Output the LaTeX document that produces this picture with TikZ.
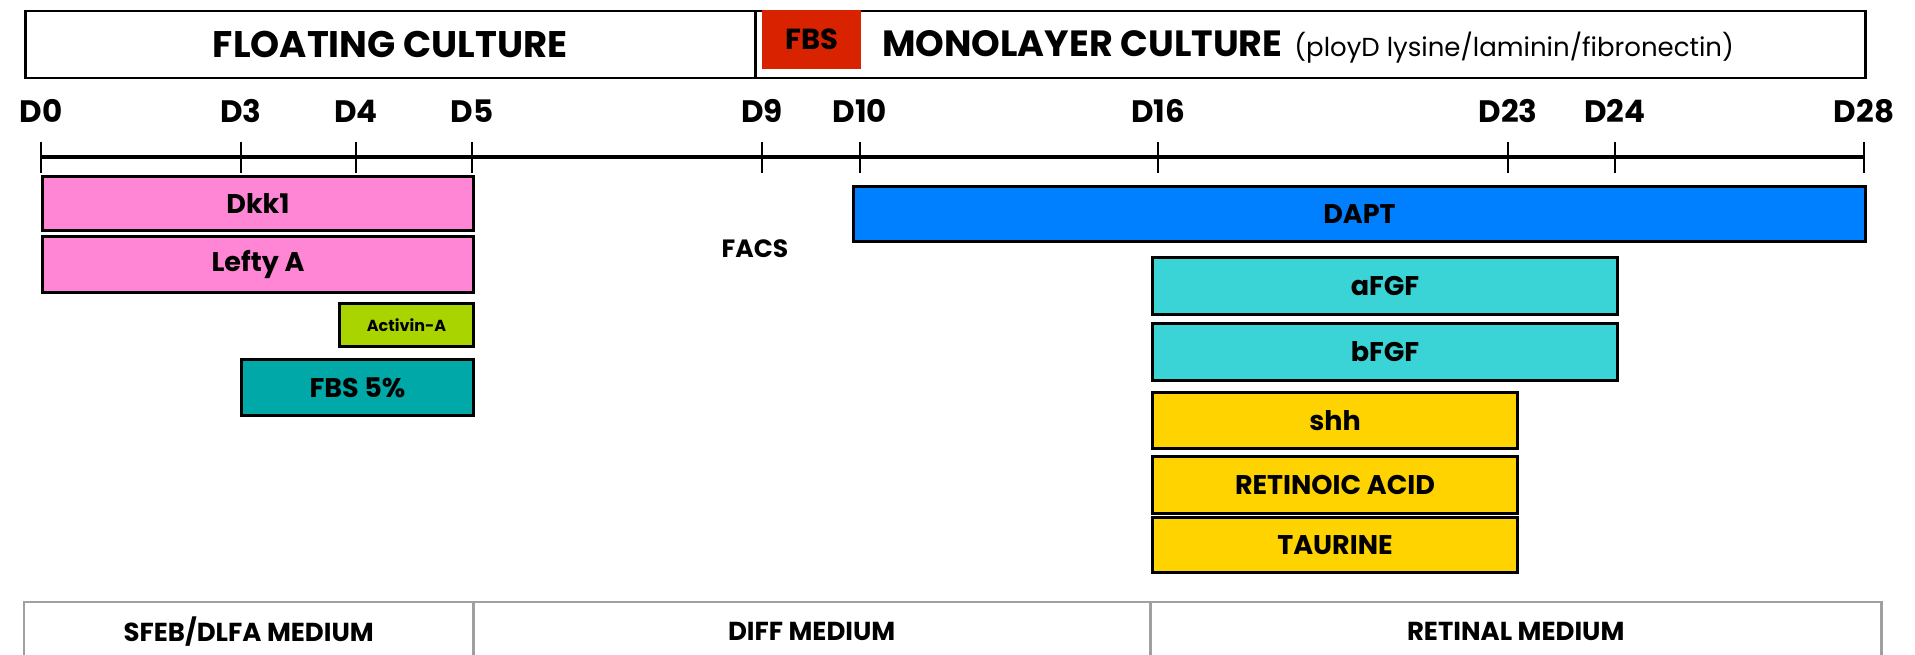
\documentclass[tikz,border=0pt]{standalone}
\usepackage{fontspec}
\setmainfont{Poppins}
\definecolor{dkpink}{HTML}{FF85D5}
\definecolor{lime}{HTML}{AAD400}
\definecolor{teal5}{HTML}{00A8A8}
\definecolor{daptblue}{HTML}{0080FF}
\definecolor{fgfcyan}{HTML}{3AD4D6}
\definecolor{gold}{HTML}{FFD300}
\definecolor{fbsred}{HTML}{D92200}
\definecolor{gridgray}{HTML}{A0A0A0}
\begin{document}
\begin{tikzpicture}[x=1pt,y=-1pt,
  titlebox/.style={draw=black, line width=2.5pt, anchor=north west, inner sep=0pt},
  drugbar/.style={draw=black, line width=3pt, anchor=north west, inner sep=0pt,
    font=\fontsize{27}{32}\selectfont\bfseries},
  daylabel/.style={anchor=base, inner sep=0pt, font=\fontsize{31}{36}\selectfont\bfseries},
  tickmark/.style={line width=2.5pt},
  axisline/.style={line width=3.5pt},
  mediumcell/.style={anchor=north west, inner sep=0pt, minimum height=54pt,
    font=\fontsize{26}{30}\selectfont\bfseries},
  gridline/.style={draw=gridgray, line width=2.5pt}]
\useasboundingbox (0,0) rectangle (1915,655);

% culture header
\node[titlebox, minimum width=730pt, minimum height=67pt,
      font=\fontsize{37}{42}\selectfont\bfseries] (floating) at (24,10) {FLOATING CULTURE};
\node[titlebox, minimum width=1110pt, minimum height=67pt] (mono) at (754,10) {};
\node[fill=fbsred, anchor=north west, inner sep=0pt, minimum width=99pt, minimum height=59pt,
      font=\fontsize{29}{33}\selectfont\bfseries] (fbs) at (762,10) {FBS};
\node[anchor=base west, inner sep=0pt] (monotext) at (882,57)
  {{\fontsize{36.5}{42}\selectfont\bfseries MONOLAYER CULTURE}\hspace{12pt}{\fontsize{26}{30}\selectfont(ployD lysine/laminin/fibronectin)}};

% time axis
\foreach \d/\x in {0/41,3/241,4/356,5/472,9/762,10/860,16/1158,23/1508,24/1615,28/1864} {
  \coordinate (t\d) at (\x,157);
  \draw[tickmark] (\x,142) -- (\x,173);
  \node[daylabel] (d\d) at (\x,123) {D\d};
}
\draw[axisline] (t0) -- (t28);

% floating-culture factors
\node[drugbar, fill=dkpink, minimum width=431pt, minimum height=54pt] (dkk) at (41,175) {Dkk1};
\node[drugbar, fill=dkpink, minimum width=431pt, minimum height=56pt] (lefty) at (41,235) {Lefty A};
\node[drugbar, fill=lime, minimum width=134pt, minimum height=43pt,
      font=\fontsize{16}{20}\selectfont\bfseries] (activin) at (338,302) {Activin-A};
\node[drugbar, fill=teal5, minimum width=232pt, minimum height=56pt] (fbs5) at (240,358) {FBS 5\%};

\node[inner sep=0pt, font=\fontsize{25}{30}\selectfont\bfseries] (facs) at (755,249) {FACS};

% monolayer factors
\node[drugbar, fill=daptblue, minimum width=1012pt, minimum height=55pt] (dapt) at (852,185) {DAPT};
\node[drugbar, fill=fgfcyan, minimum width=465pt, minimum height=57pt] (afgf) at (1151,256) {aFGF};
\node[drugbar, fill=fgfcyan, minimum width=465pt, minimum height=57pt] (bfgf) at (1151,322) {bFGF};
\node[drugbar, fill=gold, minimum width=365pt, minimum height=56pt] (shh) at (1151,391) {shh};
\node[drugbar, fill=gold, minimum width=365pt, minimum height=57pt] (ra) at (1151,455) {RETINOIC ACID};
\node[drugbar, fill=gold, minimum width=365pt, minimum height=55pt] (taurine) at (1151,516) {TAURINE};

% media table
\node[mediumcell, minimum width=449pt] (sfeb) at (24,604) {SFEB/DLFA MEDIUM};
\node[mediumcell, minimum width=677pt] (diff) at (473,604) {DIFF MEDIUM};
\node[mediumcell, minimum width=731pt] (retinal) at (1150,604) {RETINAL MEDIUM};
\draw[gridline] (sfeb.south west) -- ([yshift=2pt]sfeb.north west) -- ([yshift=2pt]retinal.north east) -- (retinal.south east);
\draw[gridline] ([yshift=2pt]sfeb.north east) -- (sfeb.south east);
\draw[gridline] ([yshift=2pt]diff.north east) -- (diff.south east);
\end{tikzpicture}
\end{document}
